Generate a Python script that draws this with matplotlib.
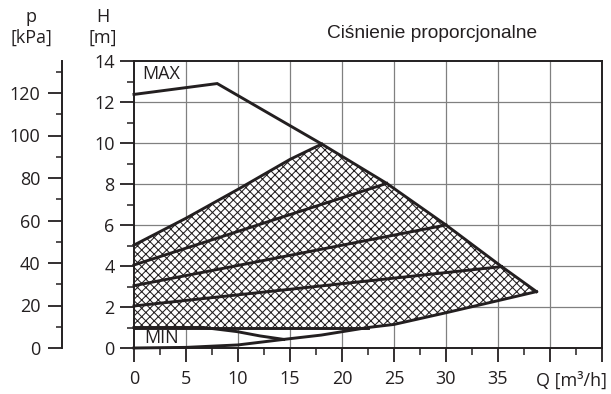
import numpy as np
import matplotlib
matplotlib.use("Agg")
import matplotlib.pyplot as plt
from matplotlib.ticker import MultipleLocator, FixedLocator

# ---- data ----
max_q = [0, 8.0, 18.05, 24.3, 30.0, 35.35, 38.7]
max_h = [12.37, 12.9, 9.95, 8.03, 6.0, 3.97, 2.75]

prop1_q = [0, 5, 10, 15, 18.05]
prop1_h = [5.02, 6.33, 7.74, 9.2, 9.95]
prop2_q = [0, 24.3]
prop2_h = [4.05, 8.03]
prop3_q = [0, 30.0]
prop3_h = [3.04, 6.0]
prop4_q = [0, 35.35]
prop4_h = [2.05, 3.97]

min_flat_q = [0, 22.5]
min_flat_h = [1.0, 1.0]
min_dip_q = [0, 6.7, 9.9, 12.1, 14.4]
min_dip_h = [1.0, 1.0, 0.8, 0.59, 0.42]
low_q = [0, 5, 10, 14.4, 18, 22.5, 25, 30, 35, 38.7]
low_h = [0, 0.03, 0.15, 0.42, 0.63, 1.0, 1.15, 1.72, 2.31, 2.75]

x_ticks = [0, 5, 10, 15, 20, 25, 30, 35, 40, 45]
x_labels = ["0", "5", "10", "15", "20", "25", "30", "35", "", ""]
h_ticks = [0, 2, 4, 6, 8, 10, 12, 14]
p_ticks = [0, 20, 40, 60, 80, 100, 120]

INK = "#231f20"
GRID = "#808080"
W, H = 611, 394
TICKFONT = "Open Sans"
FS = 13

fig = plt.figure(figsize=(W / 100, H / 100), dpi=100)
L, R, T, B = 134, 602, 61, 348
ax = fig.add_axes([L / W, 1 - B / H, (R - L) / W, (B - T) / H])
ax.set_xlim(0, 45)
ax.set_ylim(0, 14)

# grid
for q in [5, 10, 15, 20, 25, 30, 35, 40]:
    ax.axvline(q, color=GRID, lw=0.9, zorder=1)
for h in [2, 4, 6, 8, 10, 12]:
    ax.axhline(h, color=GRID, lw=0.9, zorder=1)

# hatched region
up_q = list(prop1_q) + list(max_q[3:])
up_h = list(prop1_h) + list(max_h[3:])
lo_q = [q for q in low_q if q >= min_flat_q[1]][::-1] + [min_flat_q[0]]
lo_h = [h for q, h in zip(low_q, low_h) if q >= min_flat_q[1]][::-1] + [min_flat_h[0]]
poly_q = up_q + lo_q
poly_h = up_h + lo_h
plt.rcParams['hatch.linewidth'] = 0.75
ax.fill(poly_q, poly_h, facecolor="white", edgecolor=INK, linewidth=0,
        hatch="xxxx", zorder=2)

lw = 2.1
kw = dict(color=INK, lw=lw, zorder=4, solid_joinstyle="miter", clip_on=False)
ax.plot(max_q, max_h, **kw)
ax.plot(prop1_q, prop1_h, **kw)
ax.plot(prop2_q, prop2_h, **kw)
ax.plot(prop3_q, prop3_h, **kw)
ax.plot(prop4_q, prop4_h, **kw)
ax.plot(min_flat_q, min_flat_h, **kw)
ax.plot(min_dip_q, min_dip_h, **kw)
ax.plot(low_q, low_h, **kw)

ax.text(0.8, 13.35, "MAX", fontsize=FS, family=TICKFONT, color=INK,
        ha="left", va="center", zorder=5)
ax.text(1.0, 0.47, "MIN", fontsize=FS, family=TICKFONT, color=INK,
        ha="left", va="center", zorder=5)

# spines & ticks
for s in ax.spines.values():
    s.set_color(INK)
    s.set_linewidth(1.4)
ax.xaxis.set_major_locator(FixedLocator(x_ticks))
ax.set_xticklabels(x_labels)
ax.xaxis.set_minor_locator(MultipleLocator(2.5))
ax.yaxis.set_major_locator(FixedLocator(h_ticks))
ax.yaxis.set_minor_locator(MultipleLocator(1))
ax.tick_params(axis="both", which="major", direction="out", length=10,
               width=1.3, color=INK, labelcolor=INK, labelsize=FS)
ax.tick_params(axis="both", which="minor", direction="out", length=5,
               width=1.1, color=INK)
ax.tick_params(axis="x", which="major", pad=6)
ax.tick_params(axis="y", which="major", pad=4)
for lab in ax.get_xticklabels() + ax.get_yticklabels():
    lab.set_family(TICKFONT)

# secondary pressure axis
PX = 62
ax2 = fig.add_axes([PX / W, 1 - B / H, 0.0001, (B - T) / H])
ax2.set_ylim(0, (B - T) / 2.125)
ax2.set_xlim(0, 1)
for k in ["top", "right", "bottom"]:
    ax2.spines[k].set_visible(False)
ax2.spines["left"].set_color(INK)
ax2.spines["left"].set_linewidth(1.4)
ax2.set_xticks([])
ax2.yaxis.set_major_locator(FixedLocator(p_ticks))
ax2.yaxis.set_minor_locator(MultipleLocator(10))
ax2.tick_params(axis="y", which="major", direction="out", length=10,
                width=1.3, color=INK, labelcolor=INK, labelsize=FS, pad=5.5)
ax2.tick_params(axis="y", which="minor", direction="out", length=4.5,
                width=1.1, color=INK)
for lab in ax2.get_yticklabels():
    lab.set_family(TICKFONT)
ax2.patch.set_visible(False)

# labels
fig.text(31 / W, 1 - 17 / H, "p", fontsize=FS, family=TICKFONT, color=INK,
         ha="center", va="center")
fig.text(31 / W, 1 - 38 / H, "[kPa]", fontsize=FS, family=TICKFONT, color=INK,
         ha="center", va="center")
fig.text(103 / W, 1 - 17 / H, "H", fontsize=FS, family=TICKFONT, color=INK,
         ha="center", va="center")
fig.text(103 / W, 1 - 38 / H, "[m]", fontsize=FS, family=TICKFONT, color=INK,
         ha="center", va="center")
fig.text(432 / W, 1 - 34 / H, "Ciśnienie proporcjonalne", fontsize=13.8,
         family="Liberation Sans", color=INK, ha="center", va="center")
fig.text(571 / W, 1 - 381 / H, "Q [m³/h]", fontsize=FS, family=TICKFONT,
         color=INK, ha="center", va="center")

fig.savefig("out.png", dpi=100)
